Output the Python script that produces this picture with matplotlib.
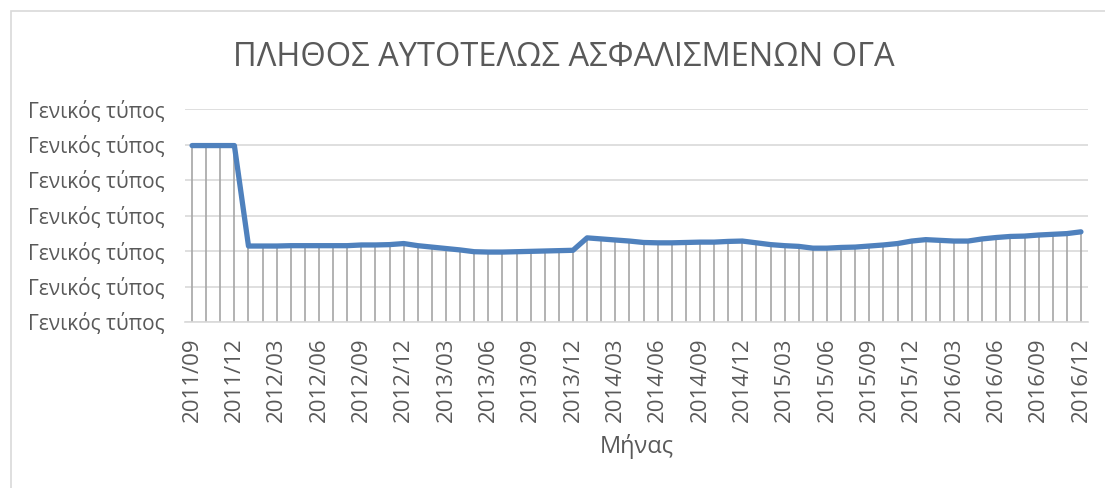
import numpy as np
import pandas as pd
import matplotlib
matplotlib.use('Agg')
import matplotlib.pyplot as plt
from matplotlib.patches import Rectangle

plt.rcParams['font.family'] = ['Open Sans', 'DejaVu Sans']

# μήνες 2011/09 - 2016/12
months = pd.period_range('2011-09', '2016-12', freq='M').strftime('%Y/%m').tolist()

# τιμές (σε μονάδες άξονα, οι ετικέτες του άξονα είναι "Γενικός τύπος")
values = [4.97, 4.97, 4.97, 4.97,
          2.14, 2.14, 2.14, 2.15, 2.15, 2.15, 2.15, 2.15, 2.17, 2.17, 2.18, 2.21,
          2.15, 2.11, 2.07, 2.03, 1.98, 1.97, 1.97, 1.98, 1.99, 2.00, 2.01, 2.02,
          2.37, 2.34, 2.31, 2.28, 2.24, 2.23, 2.23, 2.24, 2.25, 2.25, 2.27, 2.28,
          2.23, 2.18, 2.15, 2.13, 2.08, 2.08, 2.10, 2.11, 2.14, 2.17, 2.21, 2.28,
          2.32, 2.30, 2.28, 2.28, 2.34, 2.38, 2.41, 2.42, 2.45, 2.47, 2.49, 2.54]

y_ticks = [0, 1, 2, 3, 4, 5, 6]
y_labels = ['Γενικός τύπος'] * len(y_ticks)

title = 'ΠΛΗΘΟΣ ΑΥΤΟΤΕΛΩΣ ΑΣΦΑΛΙΣΜΕΝΩΝ ΟΓΑ'
x_title = 'Μήνας'

text_col = '#595959'
grid_col = '#d9d9d9'

fig = plt.figure(figsize=(11.05, 4.88), dpi=100)
ax = fig.add_axes([185 / 1105, 1 - 322 / 488, (1088 - 185) / 1105, (322 - 109) / 488])

x = np.arange(len(months))
ax.vlines(x, 0, values, color='#a6a6a6', lw=1.2, zorder=2)
ax.plot(x, values, color='#4f81bd', lw=3.8, solid_capstyle='round',
        solid_joinstyle='round', zorder=3)

ax.set_xlim(-0.5, len(months) - 0.5)
ax.set_ylim(0, 6)
ax.set_yticks(y_ticks)
ax.set_yticklabels(y_labels)
ax.set_xticks(x[::3])
ax.set_xticklabels(months[::3], rotation=90)
ax.yaxis.grid(True, color=grid_col, lw=1.2, zorder=0)
ax.set_axisbelow(True)

for s in ['top', 'right', 'left']:
    ax.spines[s].set_visible(False)
ax.spines['bottom'].set_color(grid_col)
ax.spines['bottom'].set_linewidth(1.2)

ax.tick_params(axis='y', length=0, pad=15, labelsize=15, labelcolor=text_col)
ax.tick_params(axis='x', length=0, pad=11, labelsize=16, labelcolor=text_col)

ax.set_xlabel(x_title, fontsize=17, color=text_col, labelpad=9)
fig.text(564 / 1105, 1 - 57 / 488, title, fontsize=23.5, color=text_col,
         ha='center', va='center')

# πλαίσιο γραφήματος
fig.patches.append(Rectangle((11 / 1105, -0.1), 1.2, 1 - 11 / 488 + 0.1,
                             transform=fig.transFigure, fill=False,
                             edgecolor=grid_col, lw=1.2))

fig.savefig('out.png', dpi=100)
